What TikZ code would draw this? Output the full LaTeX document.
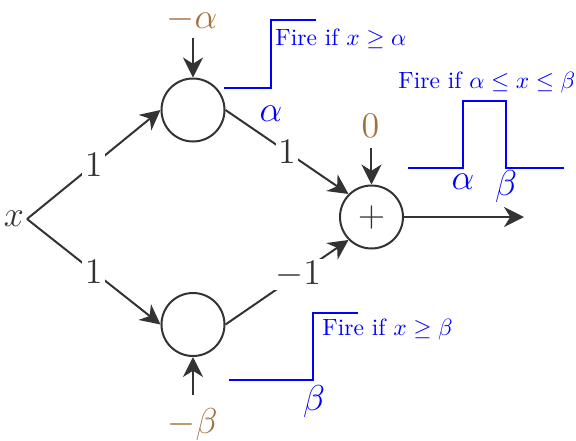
\documentclass[tikz,border=0pt]{standalone}
\usetikzlibrary{arrows.meta}
\definecolor{ln}{HTML}{333333}
\definecolor{brn}{RGB}{163,112,62}
\newcommand{\firescale}[1]{\scalebox{0.94}{#1}}
\begin{document}
\begin{tikzpicture}[x=0.4pt,y=-0.4pt,
  neuron/.style={circle,draw=ln,line width=0.8pt,minimum size=25.2pt,inner sep=0pt},
  conn/.style={draw=ln,line width=0.8pt,-{Stealth[length=8pt,width=8pt,inset=2.5pt]}},
  wlab/.style={fill=white,inner sep=1pt,text=ln,font=\Large},
  bias/.style={text=brn,font=\Large,inner sep=0.5pt},
  stepline/.style={draw=blue,line width=1pt},
  firetxt/.style={text=blue,anchor=base west,inner sep=0pt},
  blab/.style={text=blue,font=\Large}]
\useasboundingbox (0,0) rectangle (576,441);
% nodes
\node[font=\Large,text=ln,inner sep=1pt] (x) at (14,219) {$x$};
\node[neuron] (T) at (193,110) {};
\node[neuron] (B) at (193,324.5) {};
\node[neuron,font=\Large,text=ln] (P) at (371.5,217) {$+$};
\node[bias] (ma) at (192,19) {$-\alpha$};
\node[bias] (mb) at (192.5,424) {$-\beta$};
\node[bias] (z) at (370.5,126) {$0$};
\coordinate (ta) at (193,38);
\coordinate (tb) at (193,395);
\coordinate (tz) at (371.5,148);
\coordinate (out) at (524,217);
% connectors
\draw[conn] (ta) -- (T);
\draw[conn] (tb) -- (B);
\draw[conn] (tz) -- (P);
\draw[conn] (x.east) -- node[wlab]{$1$} (T.west);
\draw[conn] (x.east) -- node[wlab]{$1$} (B.west);
\draw[conn] (T.east) -- node[wlab]{$1$} (P.north west);
\draw[conn] (B.east) -- node[wlab,pos=0.59]{$-1$} (P.south west);
\draw[conn] (P) -- (out);
% top step
\draw[stepline] (224,88) -- (271,88) -- (271,20) -- (316,20);
\node[firetxt] (f1) at (275,45) {\firescale{Fire if $x\geq\alpha$}};
\node[blab] (a1) at (271,114) {$\alpha$};
% pulse
\draw[stepline] (408,168) -- (463,168) -- (463,101) -- (506,101) -- (506,168) -- (564,168);
\node[firetxt] (f2) at (398,88) {\firescale{Fire if $\alpha\leq x\leq\beta$}};
\node[blab] (a2) at (463,182) {$\alpha$};
\node[blab] (b2) at (506,186) {$\beta$};
% bottom step
\draw[stepline] (229,380) -- (313,380) -- (313,313) -- (358,313);
\node[firetxt] (f3) at (322,335) {\firescale{Fire if $x\geq\beta$}};
\node[blab] (b3) at (314,401) {$\beta$};
\end{tikzpicture}
\end{document}
